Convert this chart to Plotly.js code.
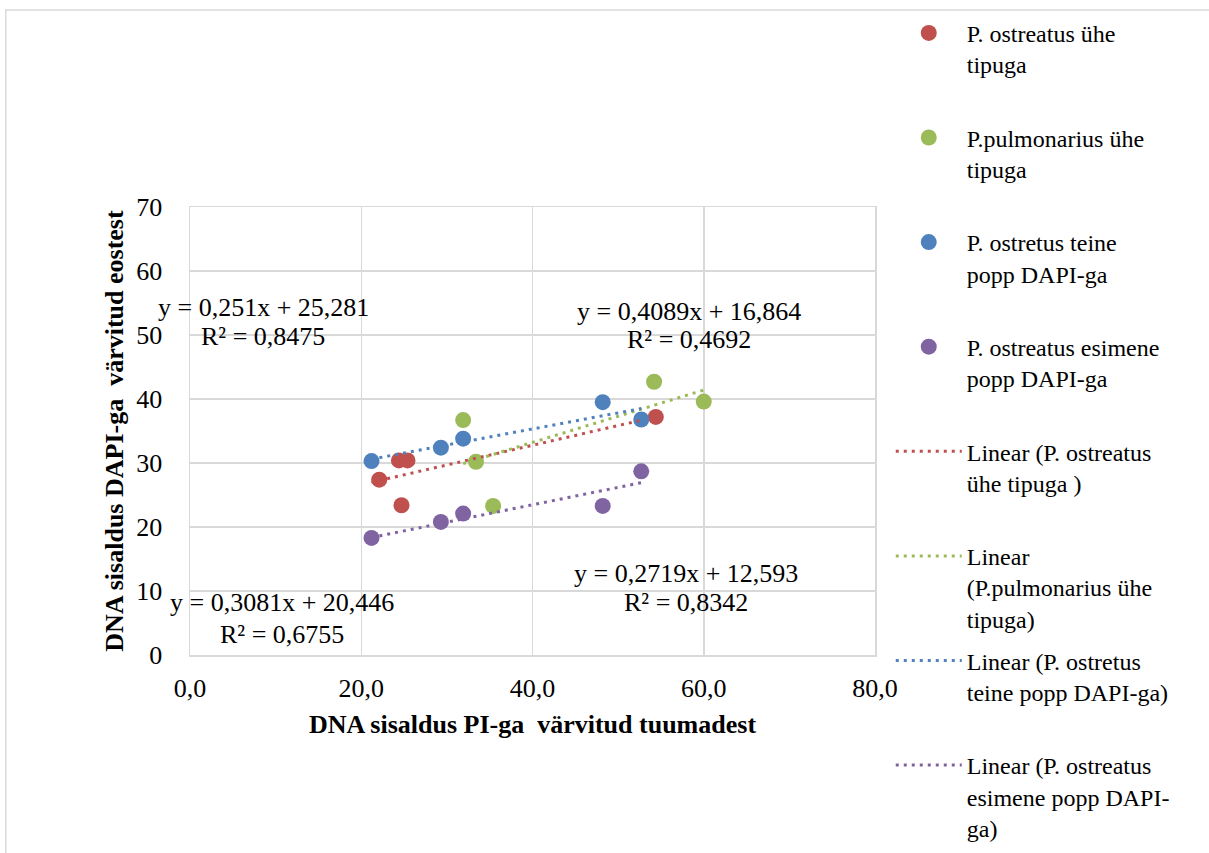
<!DOCTYPE html>
<html>
<head>
<meta charset="utf-8">
<script src="https://cdn.plot.ly/plotly-3.0.1.min.js"></script>
<style>html,body{margin:0;padding:0;background:#fff;}#chart{width:1209px;height:853px;}</style>
</head>
<body>
<div id="chart"></div>
<script>
// Series names (legend)
const seriesNames = [
  "P. ostreatus ühe<br>tipuga<br> ",
  "P.pulmonarius ühe<br>tipuga<br> ",
  "P. ostretus teine<br>popp DAPI-ga<br> ",
  "P. ostreatus esimene<br>popp DAPI-ga<br> "
];
const trendNames = [
  "Linear (P. ostreatus<br>ühe tipuga )<br> ",
  "Linear<br>(P.pulmonarius ühe<br>tipuga)",
  "Linear (P. ostretus<br>teine popp DAPI-ga)<br> ",
  "Linear (P. ostreatus<br>esimene popp DAPI-<br>ga)"
];
const colors = ["#C0504D", "#9BBB59", "#4F81BD", "#8064A2"];

// Point data (x: DNA PI, y: DNA DAPI)
const redX = [22.1, 24.4, 25.4, 24.7, 54.4];
const redY = [27.4, 30.4, 30.4, 23.4, 37.2];
const greenX = [31.9, 33.4, 35.4, 54.2, 60.0];
const greenY = [36.7, 30.2, 23.3, 42.7, 39.6];
const blueX = [21.2, 29.3, 31.9, 48.2, 52.7];
const blueY = [30.3, 32.4, 33.8, 39.5, 36.8];
const purpleX = [21.2, 29.3, 31.9, 48.2, 52.7];
const purpleY = [18.3, 20.8, 22.1, 23.3, 28.7];

// Trendline equations as shown in the chart
const trendSlope = [0.3081, 0.4089, 0.251, 0.2719];
const trendIntercept = [20.446, 16.864, 25.281, 12.593];
const trendR2 = ["0,6755", "0,4692", "0,8475", "0,8342"];
const trendStart = [21.2, 31.9, 21.2, 21.2];
const trendEnd = [52.9, 60.0, 52.7, 52.7];
const eqLabels = ["y = 0,3081x + 20,446", "y = 0,4089x + 16,864", "y = 0,251x + 25,281", "y = 0,2719x + 12,593"];
const eqPosX = [10.8, 58.25, 8.57, 57.9];
const eqPosY = [8.13, 53.75, 54.22, 12.66];
const r2PosY = [3.28, 49.22, 49.69, 8.13];

const xTicks = [0, 20, 40, 60, 80];
const yTicks = [0, 10, 20, 30, 40, 50, 60, 70];

const xs = [redX, greenX, blueX, purpleX];
const ys = [redY, greenY, blueY, purpleY];

const font = "'Liberation Serif', 'Times New Roman', serif";
const FS = 26;
const LFS = 24;
const traces = [];
for (let i = 0; i < 4; i++) {
  traces.push({
    type: "scatter", mode: "markers", x: xs[i], y: ys[i], name: seriesNames[i],
    legendgroup: "g" + i,
    marker: {color: colors[i], size: 16, line: {width: 0}},
    cliponaxis: false
  });
}
for (let i = 0; i < 4; i++) {
  const tx = [trendStart[i], trendEnd[i]];
  traces.push({
    type: "scatter", mode: "lines", x: tx,
    y: tx.map(v => trendSlope[i] * v + trendIntercept[i]),
    name: trendNames[i], legendgroup: "t" + i,
    line: {color: colors[i], width: 3, dash: "3px,5px"}
  });
}

const annotations = [];
for (let i = 0; i < 4; i++) {
  annotations.push({
    x: eqPosX[i], y: eqPosY[i], xref: "x", yref: "y",
    text: eqLabels[i], showarrow: false,
    font: {family: font, size: FS, color: "#000"}
  });
  annotations.push({
    x: eqPosX[i], y: r2PosY[i], xref: "x", yref: "y",
    text: "R² = " + trendR2[i], showarrow: false,
    font: {family: font, size: FS, color: "#000"}
  });
}

const layout = {
  width: 1209, height: 853,
  margin: {l: 189.5, r: 333.5, t: 207, b: 198, autoexpand: false},
  paper_bgcolor: "#fff", plot_bgcolor: "#fff",
  separators: ", ",
  font: {family: font, size: FS, color: "#000"},
  showlegend: true,
  legend: {
    x: 1.023, xanchor: "left", y: 1.438, yanchor: "top",
    font: {family: font, size: LFS, color: "#000"},
    valign: "top", tracegroupgap: 8, itemwidth: 66,
    maxheight: 900,
    bgcolor: "rgba(0,0,0,0)"
  },
  xaxis: {
    range: [0, 80], tickvals: xTicks, tickformat: ".1f",
    showgrid: true, gridcolor: "#D9D9D9", gridwidth: 1.5,
    zeroline: false, showline: true, linecolor: "#D9D9D9", linewidth: 1.5, mirror: true,
    ticks: "", ticklabelstandoff: 9,
    tickfont: {family: font, size: FS, color: "#000"},
    title: {text: "<b>DNA sisaldus PI-ga  värvitud tuumadest</b>", font: {family: font, size: FS, color: "#000"}, standoff: 13}
  },
  yaxis: {
    range: [0, 70], tickvals: yTicks,
    showgrid: true, gridcolor: "#D9D9D9", gridwidth: 1.5,
    zeroline: false, showline: true, linecolor: "#D9D9D9", linewidth: 1.5, mirror: true,
    ticks: "", ticklabelstandoff: 21,
    tickfont: {family: font, size: FS, color: "#000"},
    title: {text: "<b>DNA sisaldus DAPI-ga  värvitud eostest</b>", font: {family: font, size: FS, color: "#000"}, standoff: 5}
  },
  annotations: annotations,
  shapes: [{
    type: "rect", xref: "paper", yref: "paper",
    x0: -0.269, x1: 1.6, y0: -1.0, y1: 1.44,
    line: {color: "#D9D9D9", width: 1.5}, layer: "below"
  }]
};

Plotly.newPlot("chart", traces, layout, {staticPlot: true, displayModeBar: false});
</script>
</body>
</html>
